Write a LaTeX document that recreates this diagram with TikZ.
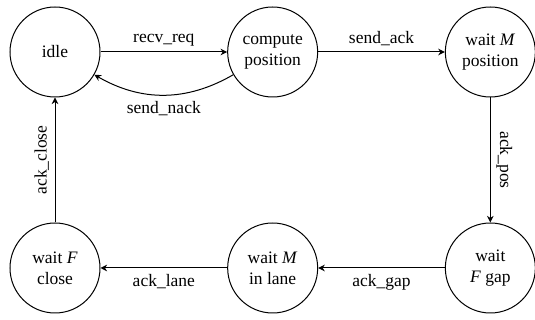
\documentclass[tikz,border=0pt]{standalone}
\usepackage{fontspec}
\setmainfont{Liberation Serif}
\usepackage{tikz}
\usetikzlibrary{arrows.meta, positioning}

\begin{document}
\begin{tikzpicture}[
    node distance=75pt and 76pt,
    state/.style={circle, draw, semithick, minimum size=54pt, inner sep=1pt, align=center, font=\fontsize{10.5}{12.5}\selectfont},
    trans/.style={-{Stealth[length=4pt, width=4pt]}, semithick},
    lbl/.style={font=\fontsize{10.5}{12.5}\selectfont}
]
\useasboundingbox (-33pt,31.2pt) rectangle (288pt,-160.8pt);

% top row
\node[state] (idle) at (0,0) {idle};
\node[state, right=of idle] (compute) {compute\\position};
\node[state, right=of compute] (waitMpos) {wait \textit{M}\\position};

% bottom row
\node[state, below=of waitMpos] (waitFgap) {wait\\\textit{F} gap};
\node[state, below=of compute] (waitMlane) {wait \textit{M}\\in lane};
\node[state, below=of idle] (waitFclose) {wait \textit{F}\\close};

% transitions
\draw[trans] (idle) -- node[lbl, above] {recv\_req} (compute);
\draw[trans] (compute) to[bend left=30] node[lbl, below] {send\_nack} (idle);
\draw[trans] (compute) -- node[lbl, above] {send\_ack} (waitMpos);
\draw[trans] (waitMpos) -- node[lbl, above, rotate=-90] {ack\_pos} (waitFgap);
\draw[trans] (waitFgap) -- node[lbl, below] {ack\_gap} (waitMlane);
\draw[trans] (waitMlane) -- node[lbl, below] {ack\_lane} (waitFclose);
\draw[trans] (waitFclose) -- node[lbl, above, rotate=90] {ack\_close} (idle);

\end{tikzpicture}
\end{document}
